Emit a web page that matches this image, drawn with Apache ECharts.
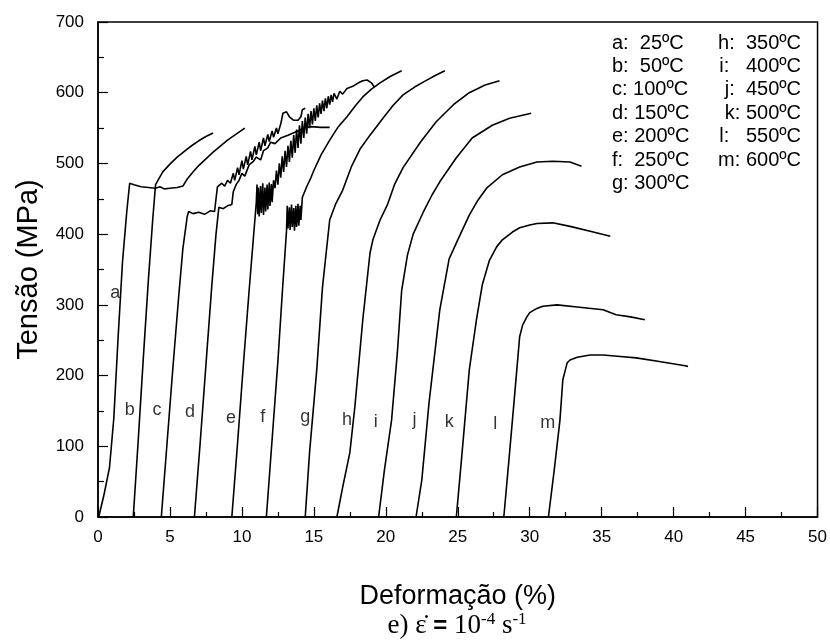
<!DOCTYPE html>
<html>
<head>
<meta charset="utf-8">
<script src="https://cdn.jsdelivr.net/npm/echarts@6/dist/echarts.min.js"></script>
<style>
  html, body { margin: 0; padding: 0; background: #fff; }
  #chart { width: 830px; height: 641px; }
</style>
</head>
<body>
<div id="chart"></div>
<script>
// curves: [deformação %, tensão MPa]
var curveA = [[0.05,0],[0.4,30],[0.8,70],[1.1,140],[1.4,255],[1.7,360],[2.0,432],[2.2,472],[2.5,470],[3.0,467],[3.5,466],[4.0,465],[4.3,467],[4.6,464],[5.0,465],[5.5,466],[5.9,468],[6.2,478],[6.6,488],[7.0,497],[8.0,516],[9.0,533],[10.2,550]];
var curveB = [[2.45,0],[2.8,110],[3.15,225],[3.5,335],[3.8,420],[4.0,470],[4.5,488],[5.0,499],[5.5,509],[6.0,517],[6.5,525],[7.0,532],[7.5,538],[8.0,543]];
var curveC = [[4.4,0],[4.8,105],[5.2,210],[5.6,310],[5.9,380],[6.2,425],[6.3,432],[6.6,429],[7.0,431],[7.4,428],[7.8,433],[8.1,432],[8.2,450],[8.3,467],[8.6,472],[8.8,468],[9.0,476],[9.2,472],[9.4,486],[9.5,476],[9.7,494],[9.8,484],[10.0,504],[10.1,492],[10.3,510],[10.4,498],[10.6,517],[10.7,505],[10.9,524],[11.0,512],[11.2,530],[11.3,518],[11.5,536],[11.6,525],[11.8,541],[11.9,531],[12.1,546],[12.2,537],[12.4,550],[12.5,542],[12.7,556],[12.85,571],[13.1,573],[13.3,566],[13.6,561],[13.9,561],[14.1,566],[14.2,576],[14.4,578]];
var curveD = [[6.7,0],[7.1,105],[7.5,215],[7.9,325],[8.2,400],[8.4,438],[8.7,436],[9.0,440],[9.3,442],[9.4,460],[9.6,470],[9.8,476],[10.0,486],[10.2,482],[10.5,498],[10.8,503],[11.0,509],[11.3,505],[11.5,518],[11.8,522],[12.0,530],[12.3,528],[12.7,536],[13.2,540],[13.8,545],[14.3,550],[14.8,552],[15.5,551],[16.1,551]];
var curveE = [[9.3,0],[9.7,105],[10.1,215],[10.5,320],[10.9,420],[11.0,445],[11.05,470],[11.1,428],[11.15,466],[11.2,425],[11.3,468],[11.35,430],[11.45,472],[11.5,427],[11.6,466],[11.65,432],[11.75,470],[11.8,435],[11.9,473],[11.95,440],[12.05,471],[12.1,445],[12.2,476],[12.3,465],[12.4,490],[12.5,470],[12.6,500],[12.7,480],[12.8,510],[12.9,488],[13.0,518],[13.1,495],[13.2,525],[13.3,502],[13.4,532],[13.5,508],[13.6,540],[13.7,515],[13.8,548],[13.9,522],[14.0,554],[14.1,528],[14.2,560],[14.3,536],[14.4,565],[14.5,542],[14.6,570],[14.7,550],[14.8,574],[14.9,555],[15.0,578],[15.1,560],[15.2,582],[15.3,565],[15.4,585],[15.5,570],[15.6,589],[15.7,574],[15.8,592],[15.9,578],[16.0,595],[16.1,583],[16.2,597],[16.3,587],[16.4,599],[16.6,591],[16.8,602],[17.0,598],[17.3,606],[17.7,609],[18.1,614],[18.4,617],[18.7,618],[19.0,614],[19.2,608]];
var curveF = [[11.7,0],[12.1,110],[12.5,220],[12.8,315],[13.1,405],[13.15,440],[13.2,408],[13.3,438],[13.35,406],[13.45,442],[13.5,410],[13.6,437],[13.65,405],[13.75,440],[13.8,410],[13.9,443],[13.95,412],[14.05,440],[14.1,420],[14.2,452],[14.5,467],[14.8,480],[15.0,490],[15.5,512],[16.1,533],[16.7,552],[17.3,566],[17.9,582],[18.4,594],[19.0,605],[19.6,614],[20.3,623],[21.1,631]];
var curveG = [[14.4,0],[14.7,91],[15.2,208],[15.6,325],[16.1,420],[16.5,442],[17.0,462],[17.6,495],[18.2,520],[18.9,540],[19.8,564],[20.5,582],[21.2,597],[22.0,608],[22.6,615],[23.4,624],[24.1,631]];
var curveH = [[16.6,0],[17.0,42],[17.5,91],[17.85,156],[18.4,279],[18.9,373],[19.1,392],[19.6,420],[20.1,441],[20.6,470],[21.2,494],[22.4,530],[23.5,559],[24.7,583],[25.8,600],[26.9,611],[27.9,617]];
var curveI = [[19.5,0],[19.9,66],[20.4,137],[20.8,232],[21.1,320],[21.5,370],[21.9,400],[22.6,431],[23.2,455],[23.75,474],[24.9,508],[26.0,536],[27.4,554],[28.6,564],[30.1,571]];
var curveJ = [[22.1,0],[22.5,52],[23.0,161],[23.75,293],[24.4,365],[25.0,392],[25.8,427],[26.4,448],[27.0,465],[28.1,484],[29.3,495],[30.5,502],[31.6,503],[32.8,502],[33.6,496]];
var curveK = [[24.9,0],[25.3,91],[25.8,208],[26.3,279],[26.7,328],[27.2,363],[27.7,382],[28.1,392],[28.8,403],[29.3,409],[30.0,413],[30.5,415],[31.6,416],[32.8,411],[34.2,404],[35.6,397]];
var curveL = [[28.2,0],[28.6,91],[29.0,184],[29.3,255],[29.5,271],[29.8,283],[30.0,289],[30.5,295],[30.9,298],[31.9,300],[33.3,297],[35.1,293],[36.0,286],[37.0,283],[38.0,279]];
var curveM = [[31.3,0],[31.7,66],[32.1,137],[32.3,194],[32.6,218],[32.8,222],[33.3,226],[34.2,229],[35.1,229],[36.3,227],[37.4,225],[39.0,220],[40.8,214],[41.0,213]];

var letters = ['a','b','c','d','e','f','g','h','i','j','k','l','m'];
// where each letter sits, in data units
var letterSpots = [[1.2,317],[2.2,151],[4.1,151],[6.4,148],[9.25,140],[11.45,141],[14.4,141],[17.3,137],[19.3,134],[22.0,137],[24.4,134],[27.6,132],[31.25,133]];
var legendLeft = ['a:  25ºC','b:  50ºC','c: 100ºC','d: 150ºC','e: 200ºC','f:  250ºC','g: 300ºC'];
var legendRight = ['h:  350ºC','i:   400ºC','j:  450ºC','k: 500ºC','l:   550ºC','m: 600ºC'];

var curves = [curveA,curveB,curveC,curveD,curveE,curveF,curveG,curveH,curveI,curveJ,curveK,curveL,curveM];

var chart = echarts.init(document.getElementById('chart'));
var font = '"Liberation Sans", Arial, sans-serif';

var series = curves.map(function (c, i) {
  return {
    name: letters[i],
    type: 'line',
    data: c,
    showSymbol: false,
    symbol: 'none',
    lineStyle: { color: '#000', width: 1.6 },
    z: 2
  };
});
series.push({
  type: 'scatter',
  data: letterSpots.map(function (p, i) { return { value: p, name: letters[i] }; }),
  symbolSize: 0,
  label: {
    show: true,
    position: 'inside',
    formatter: '{b}',
    color: '#000',
    fontFamily: font,
    fontSize: 18
  },
  z: 3
});

var graphics = [];
legendLeft.forEach(function (t, i) {
  graphics.push({ type: 'text', left: 612, top: 33 + i * 23.4,
    style: { text: t, fill: '#000', font: '20px ' + font } });
});
legendRight.forEach(function (t, i) {
  graphics.push({ type: 'text', right: 29, top: 33 + i * 23.4,
    style: { text: t, fill: '#000', font: '20px ' + font } });
});
graphics.push({
  type: 'text', x: 457, y: 626,
  style: {
    text: '{n|e) ε\u0307 }{b|=}{n| 10}{s|-4}{n| s}{s|-1}',
    align: 'center', verticalAlign: 'middle', fill: '#000',
    rich: {
      n: { fontFamily: '"Liberation Serif", serif', fontSize: 27, fill: '#000' },
      b: { fontFamily: '"Liberation Sans", sans-serif', fontSize: 24, fontWeight: 'bold', fill: '#000' },
      s: { fontFamily: '"Liberation Serif", serif', fontSize: 17, fill: '#000', verticalAlign: 'top', padding: [0, 0, 12, 0] }
    }
  }
});

chart.setOption({
  animation: false,
  backgroundColor: '#fff',
  grid: { left: 98, right: 12, top: 22, bottom: 124, show: true, borderColor: '#000', borderWidth: 1.5 },
  xAxis: {
    type: 'value', min: 0, max: 50, interval: 5,
    name: 'Deformação (%)', nameLocation: 'middle', nameGap: 66,
    nameTextStyle: { fontFamily: font, fontSize: 27, color: '#000' },
    axisLine: { lineStyle: { color: '#000', width: 1.5 } },
    axisTick: { inside: true, length: 10, lineStyle: { color: '#000', width: 1.2 } },
    minorTick: { show: true, splitNumber: 2, length: 5, lineStyle: { color: '#000', width: 1.2 } },
    axisLabel: { color: '#000', fontFamily: font, fontSize: 17, margin: 12 },
    splitLine: { show: false }
  },
  yAxis: {
    type: 'value', min: 0, max: 700, interval: 100,
    name: 'Tensão (MPa)', nameLocation: 'middle', nameGap: 55,
    nameTextStyle: { fontFamily: font, fontSize: 29, color: '#000' },
    axisLine: { lineStyle: { color: '#000', width: 1.5 } },
    axisTick: { inside: true, length: 10, lineStyle: { color: '#000', width: 1.2 } },
    minorTick: { show: true, splitNumber: 2, length: 6, lineStyle: { color: '#000', width: 1.2 } },
    axisLabel: { color: '#000', fontFamily: font, fontSize: 17, margin: 14 },
    splitLine: { show: false }
  },
  graphic: graphics,
  series: series
});
</script>
</body>
</html>
